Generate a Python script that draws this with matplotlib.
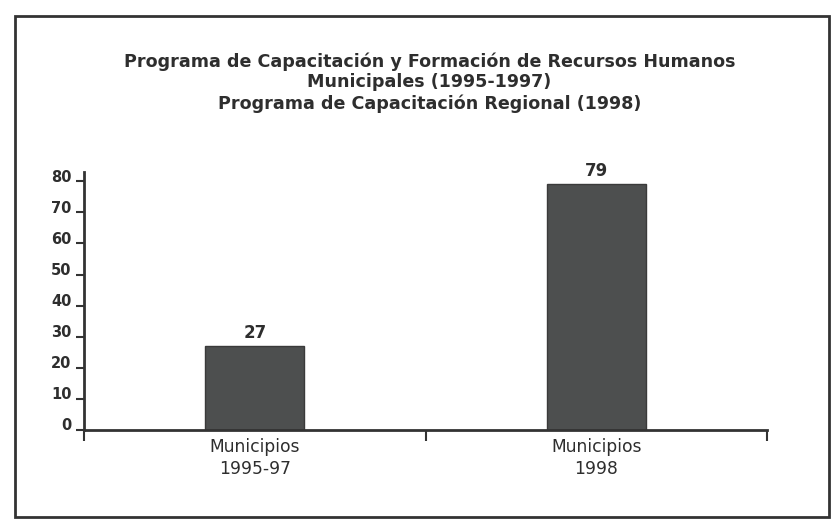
import matplotlib
matplotlib.use("Agg")
import matplotlib.pyplot as plt
from matplotlib.patches import Rectangle
from matplotlib.transforms import ScaledTranslation

# datos del grafico
categorias = ["Municipios\n1995-97", "Municipios\n1998"]
valores = [27, 79]
yticks = [0, 10, 20, 30, 40, 50, 60, 70, 80]
titulo = ("Programa de Capacitación y Formación de Recursos Humanos\n"
          "Municipales (1995-1997)\n"
          "Programa de Capacitación Regional (1998)")

plt.rcParams['font.family'] = ['DejaVu Sans']
txt = '#2e2e2e'

fig = plt.figure(figsize=(8.32, 5.26), dpi=100)
fig.patch.set_facecolor('white')

# marco exterior
fig.patches.append(Rectangle((0.018, 0.017), 0.978, 0.953, transform=fig.transFigure,
                             fill=False, edgecolor='#333333', linewidth=2))

fig.text(0.516, 0.901, titulo, ha='center', va='top', fontsize=12.6,
         fontweight='bold', color=txt, linespacing=1.2)

ax = fig.add_axes([0.101, 0.1825, 0.821, 0.4905])
x = list(range(len(valores)))
bars = ax.bar(x, valores, width=0.29, color='#4d4f4f', edgecolor='#3a3a3a', zorder=2)

for xi, v in zip(x, valores):
    ax.annotate(str(v), (xi, v), xytext=(0, 3), textcoords='offset points',
                ha='center', va='bottom', fontsize=12, fontweight='bold', color=txt)

ax.set_xlim(-0.5, 1.5)
ax.set_ylim(0, 83)
ax.set_yticks(yticks)
ax.set_yticklabels([str(t) for t in yticks], fontsize=10.5, fontweight='bold', color=txt)
ax.tick_params(axis='y', direction='out', length=6, width=1.5, pad=3, color='#333333')
# las etiquetas del eje y quedan un poco por encima de la marca
for lab in ax.get_yticklabels():
    lab.set_transform(lab.get_transform() + ScaledTranslation(0, 4 / 72, fig.dpi_scale_trans))

ax.set_xticks(x)
ax.set_xticklabels(categorias, fontsize=12.3, color=txt, linespacing=1.25)
ax.tick_params(axis='x', length=0, pad=6)
ax.set_xticks([-0.5, 0.5, 1.5], minor=True)
ax.tick_params(axis='x', which='minor', direction='out', length=8, width=1.5, color='#333333')

for s in ['top', 'right']:
    ax.spines[s].set_visible(False)
for s in ['left', 'bottom']:
    ax.spines[s].set_linewidth(2)
    ax.spines[s].set_color('#333333')

fig.savefig('out.png', dpi=100)
